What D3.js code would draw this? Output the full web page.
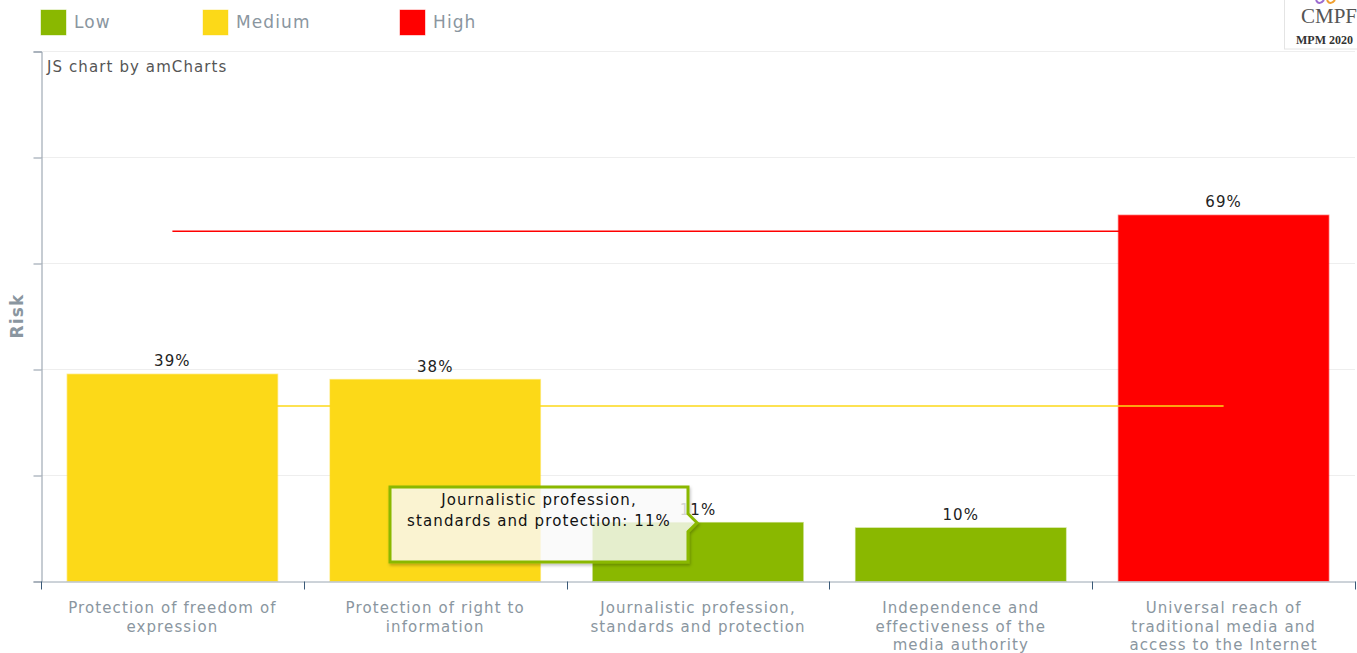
<!DOCTYPE html>
<html>
<head>
<meta charset="utf-8">
<script src="https://cdn.jsdelivr.net/npm/d3@7"></script>
<style>
  html, body { margin: 0; padding: 0; background: #fff; }
  svg { display: block; font-family: "DejaVu Sans", Verdana, sans-serif; }
  .sp { letter-spacing: 1.1px; }
</style>
</head>
<body>
<svg id="chart" width="1357" height="653"></svg>
<script>
// Media Pluralism Monitor risk levels per area
const categories = [
  ["Protection of freedom of", "expression"],
  ["Protection of right to", "information"],
  ["Journalistic profession,", "standards and protection"],
  ["Independence and", "effectiveness of the", "media authority"],
  ["Universal reach of", "traditional media and", "access to the Internet"]
];
const riskValues = [39, 38, 11, 10, 69];
const riskLevels = ["Medium", "Medium", "Low", "Low", "High"];
const levelNames = ["Low", "Medium", "High"];
const levelColors = ["#8ab800", "#fcd918", "#ff0000"];
const thresholdHigh = 66;
const thresholdLow = 33;
const yTicks = [0, 20, 40, 60, 80, 100];
const tooltipLines = ["Journalistic profession,", "standards and protection: 11%"];

const svg = d3.select("#chart");
const plot = { left: 41, right: 1355, top: 51, bottom: 581 };

const x = d3.scaleBand()
  .domain(d3.range(categories.length))
  .range([plot.left, plot.right])
  .paddingInner(0.2)
  .paddingOuter(0.1);
const xb = d3.scaleBand().domain(d3.range(categories.length)).range([plot.left, plot.right]);
const y = d3.scaleLinear().domain([0, 100]).range([plot.bottom, plot.top]);
const color = d3.scaleOrdinal().domain(levelNames).range(levelColors);

// Legend
const legend = svg.append("g");
const legendX = [41, 203, 400];
levelNames.forEach((name, i) => {
  legend.append("rect").attr("x", legendX[i]).attr("y", 10).attr("width", 25).attr("height", 25)
    .attr("fill", levelColors[i]).attr("stroke", levelColors[i]).attr("stroke-opacity", 0.4);
  legend.append("text").attr("class", "sp").attr("x", legendX[i] + 33).attr("y", 28)
    .attr("font-size", 17).attr("fill", "#8a96a0").text(name);
});

// Logo box
const logo = svg.append("g");
logo.append("rect").attr("x", 1284.5).attr("y", -2).attr("width", 80).attr("height", 51)
  .attr("fill", "#fff").attr("stroke", "#e4e4e4");
logo.append("path").attr("d", "M1316,0 q3,6 8,0").attr("fill", "none").attr("stroke", "#9b6bd0").attr("stroke-width", 2);
logo.append("path").attr("d", "M1327,0 q3,6 8,0").attr("fill", "none").attr("stroke", "#f0a030").attr("stroke-width", 2);
logo.append("text").attr("x", 1301).attr("y", 23).attr("font-family", "Liberation Serif, serif")
  .attr("font-size", 21).attr("fill", "#555").text("CMPF");
logo.append("text").attr("x", 1296).attr("y", 44).attr("font-family", "Liberation Serif, serif")
  .attr("font-size", 12).attr("font-weight", "bold").attr("fill", "#333").text("MPM 2020");

// Gridlines
svg.append("g").selectAll("line").data(yTicks.slice(1)).join("line")
  .attr("x1", plot.left).attr("x2", plot.right)
  .attr("y1", d => Math.round(y(d)) + 0.5).attr("y2", d => Math.round(y(d)) + 0.5)
  .attr("stroke", "#eeeeee");

// Credit text
svg.append("text").attr("class", "sp").attr("x", 47).attr("y", 72).attr("font-size", 15).attr("fill", "#555")
  .text("JS chart by amCharts");

// Bars
svg.append("g").selectAll("rect").data(riskValues).join("rect")
  .attr("x", (d, i) => x(i)).attr("width", x.bandwidth())
  .attr("y", d => y(d)).attr("height", d => y(0) - y(d))
  .attr("fill", (d, i) => color(riskLevels[i]))
  .attr("stroke", (d, i) => color(riskLevels[i])).attr("stroke-opacity", 0.45).attr("stroke-width", 1.5);

// Threshold lines, from the first to the last area centre
const center = i => x(i) + x.bandwidth() / 2;
const lineGen = d3.line().x(d => d[0]).y(d => d[1]);
svg.append("path")
  .attr("d", lineGen([[center(0), y(thresholdHigh)], [center(categories.length - 1), y(thresholdHigh)]]))
  .attr("stroke", color("High")).attr("stroke-width", 1.5).attr("fill", "none");
svg.append("path")
  .attr("d", lineGen([[center(0), y(thresholdLow)], [center(categories.length - 1), y(thresholdLow)]]))
  .attr("stroke", color("Medium")).attr("stroke-width", 1.5).attr("fill", "none");

// Value labels
svg.append("g").selectAll("text").data(riskValues).join("text")
  .attr("class", "sp")
  .attr("x", (d, i) => center(i)).attr("y", d => y(d) - 8)
  .attr("text-anchor", "middle").attr("font-size", 15).attr("fill", "#222")
  .text(d => d + "%");

// Y axis
const yAxis = d3.axisLeft(y).tickValues(yTicks).tickFormat("").tickSizeOuter(0).tickSize(8);
const yg = svg.append("g").attr("transform", `translate(${plot.left + 0.5},0.5)`).call(yAxis);
yg.select(".domain").attr("stroke", "#8d99a6");
yg.selectAll(".tick line").attr("stroke", "#8d99a6");

// X axis
const xAxis = d3.axisBottom(xb).tickFormat("").tickSize(0).tickSizeOuter(0);
const xg = svg.append("g").attr("transform", `translate(0,${plot.bottom + 0.5})`).call(xAxis);
xg.select(".domain").attr("stroke", "#9aa6b2");
xg.selectAll(".tick").remove();
const bounds = d3.range(categories.length + 1).map(i => i < categories.length ? xb(i) : plot.right);
xg.selectAll("line.sep").data(bounds).join("line").attr("class", "sep")
  .attr("x1", d => Math.round(d) + 0.5).attr("x2", d => Math.round(d) + 0.5)
  .attr("y1", 0).attr("y2", 8).attr("stroke", "#3a5a78");

// Category labels
svg.append("g").selectAll("text").data(categories).join("text")
  .attr("class", "sp")
  .attr("text-anchor", "middle").attr("font-size", 15).attr("fill", "#8a96a0")
  .attr("transform", (d, i) => `translate(${center(i)},613)`)
  .each(function (lines) {
    d3.select(this).selectAll("tspan").data(lines).join("tspan")
      .attr("x", 0).attr("dy", (l, j) => j === 0 ? 0 : 18.5).text(l => l);
  });

// Y axis title
svg.append("text").attr("class", "sp").attr("transform", `translate(23,${(plot.top + plot.bottom) / 2}) rotate(-90)`)
  .attr("text-anchor", "middle").attr("font-size", 17).attr("font-weight", "bold")
  .attr("fill", "#8a96a0").text("Risk");

// Hover balloon for the third area
const defs = svg.append("defs");
const f = defs.append("filter").attr("id", "shadow").attr("x", "-10%").attr("y", "-10%").attr("width", "130%").attr("height", "140%");
f.append("feDropShadow").attr("dx", 1).attr("dy", 2).attr("stdDeviation", 1.5).attr("flood-color", "#000").attr("flood-opacity", 0.25);

const tip = { x0: 390, x1: 688, y0: 487, y1: 562 };
const tipY = y(riskValues[2]);
const tipPath = `M${tip.x0},${tip.y0} H${tip.x1} V${tipY - 9} L${tip.x1 + 9},${tipY} L${tip.x1},${tipY + 9} V${tip.y1} H${tip.x0} Z`;
svg.append("path").attr("d", tipPath)
  .attr("fill", "#fff").attr("fill-opacity", 0.78)
  .attr("stroke", "#8ab800").attr("stroke-width", 3).attr("filter", "url(#shadow)");
svg.append("text").attr("class", "sp").attr("text-anchor", "middle").attr("font-size", 15).attr("fill", "#111")
  .attr("transform", `translate(${(tip.x0 + tip.x1) / 2},${tip.y0 + 18})`)
  .selectAll("tspan").data(tooltipLines).join("tspan")
  .attr("x", 0).attr("dy", (l, j) => j === 0 ? 0 : 21).text(l => l);
</script>
</body>
</html>
